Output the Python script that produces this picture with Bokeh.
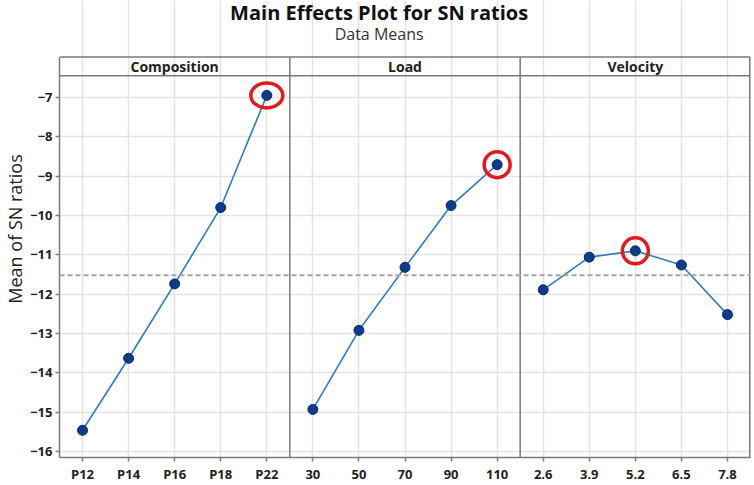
import numpy as np
from bokeh.plotting import figure
from bokeh.models import ColumnDataSource, FixedTicker, Span, Range1d
from bokeh.core.properties import value
from bokeh.embed import file_html
from bokeh.resources import INLINE

# ---- data ----
title_text = "Main Effects Plot for SN ratios"
subtitle_text = "Data Means"
y_label = "Mean of SN ratios"
factors = ["Composition", "Load", "Velocity"]
composition_levels = ["P12", "P14", "P16", "P18", "P22"]
composition_sn = [-15.46, -13.63, -11.74, -9.80, -6.95]
load_levels = ["30", "50", "70", "90", "110"]
load_sn = [-14.93, -12.92, -11.32, -9.75, -8.71]
velocity_levels = ["2.6", "3.9", "5.2", "6.5", "7.8"]
velocity_sn = [-11.89, -11.06, -10.90, -11.26, -12.52]
y_ticks = [-16, -15, -14, -13, -12, -11, -10, -9, -8, -7]

levels = [composition_levels, load_levels, velocity_levels]
series = [composition_sn, load_sn, velocity_sn]
grand_mean = float(np.mean(np.concatenate([np.array(s) for s in series])))

FONT = "Open Sans"
n = len(composition_levels)
npan = len(factors)

# ---- layout constants (pixels) ----
W, H = 754, 485
frame_h = 461.0          # frame height (canvas minus x-axis panel)
ppu = 39.7               # pixels per SN unit
y7_px = 97.7             # pixel row of the -7 gridline
box_top_px, strip_bot_px = 57.0, 76.0
title_px, subtitle_px = 12.0, 34.0
frame_left_px, frame_right_px = 56.0, 750.0
title_center_px = 377.0

def py(px):
    return -7 + (y7_px - px) / ppu

ppx = (frame_right_px - frame_left_px) / (npan * n)

def pxx(px):
    return 0.5 + (px - frame_left_px) / ppx

y_top = py(0)
y_bottom = py(frame_h)
box_top = py(box_top_px)
strip_bot = py(strip_bot_px)

p = figure(width=W, height=H, output_backend="svg", toolbar_location=None,
           x_range=Range1d(0.5, npan * n + 0.5), y_range=Range1d(y_bottom, y_top),
           min_border_left=int(frame_left_px), min_border_right=int(W - frame_right_px),
           min_border_top=0, min_border_bottom=int(H - frame_h))
p.title = None
p.background_fill_color = "white"
p.border_fill_color = "white"
p.outline_line_color = None

# ticks
xt = list(range(1, npan * n + 1))
overrides = {}
for k in range(npan):
    for i, lab in enumerate(levels[k]):
        overrides[k * n + i + 1] = lab

p.xaxis.ticker = FixedTicker(ticks=xt)
p.xaxis.major_label_overrides = overrides
p.yaxis.ticker = FixedTicker(ticks=y_ticks)
p.yaxis.bounds = (y_bottom, box_top)
for ax in (p.xaxis, p.yaxis):
    ax.axis_line_color = "#7a7a7a"
    ax.axis_line_width = 1.5
    ax.major_tick_line_color = "#7a7a7a"
    ax.major_tick_line_width = 1.5
    ax.major_tick_out = 4
    ax.major_tick_in = 0
    ax.minor_tick_line_color = None
    ax.major_label_text_font = FONT
    ax.major_label_text_font_size = "13px"
    ax.major_label_text_font_style = "bold"
    ax.major_label_text_color = "#222222"
    ax.major_label_standoff = 3
p.xaxis.major_label_standoff = 3
p.yaxis.axis_label = y_label
p.yaxis.axis_label_text_font = FONT
p.yaxis.axis_label_text_font_size = "18px"
p.yaxis.axis_label_text_font_style = "normal"
p.yaxis.axis_label_text_color = "#222222"
p.yaxis.axis_label_standoff = 0

# grids
p.xgrid.ticker = FixedTicker(ticks=xt)
p.xgrid.bounds = (y_bottom, strip_bot)
p.ygrid.ticker = FixedTicker(ticks=y_ticks)
for g in (p.xgrid, p.ygrid):
    g.grid_line_color = "#e3e3e3"
    g.grid_line_width = 1.5

# reference line
p.add_layout(Span(location=grand_mean, dimension="width", line_color="#a6a6a6",
                  line_width=2, line_dash="5 3"))

# box and strip lines
for loc in (box_top, strip_bot):
    p.add_layout(Span(location=loc, dimension="width", line_color="#7a7a7a", line_width=1.5))
sep_x = [k * n + 0.5 for k in range(1, npan + 1)]
p.segment(x0=sep_x, y0=[y_bottom] * npan, x1=sep_x, y1=[box_top] * npan,
          line_color="#7a7a7a", line_width=[1.5] * (npan - 1) + [3.0])

# titles
title_x = pxx(title_center_px)
p.text(x=[title_x], y=[py(title_px)], text=[title_text], text_align="center",
       text_baseline="middle", text_font=value(FONT), text_font_size="20px",
       text_font_style="bold", text_color="#111111")
p.text(x=[title_x], y=[py(subtitle_px)], text=[subtitle_text], text_align="center",
       text_baseline="middle", text_font=value(FONT), text_font_size="16px",
       text_font_style="normal", text_color="#333333")

# strip labels
strip_src = ColumnDataSource(dict(x=[k * n + (n + 1) / 2 for k in range(npan)],
                                  y=[(strip_bot + box_top) / 2] * npan, t=factors))
p.text("x", "y", text="t", source=strip_src, text_align="center", text_baseline="middle",
       text_font=value(FONT), text_font_size="14px", text_font_style="bold",
       text_color="#222222")

# series
hx, hy, hw, hh = [], [], [], []
for k in range(npan):
    xs = [k * n + i + 1 for i in range(n)]
    ys = series[k]
    p.line(xs, ys, line_color="#2f7bbf", line_width=1.6)
    p.scatter(xs, ys, size=10, fill_color="#0d3b8e", line_color="#0a2a66", line_width=1)
    j = int(np.argmax(ys))
    hx.append(xs[j])
    hy.append(ys[j])
    hw.append(32 if k == 0 else 26)
    hh.append(25 if k == 0 else 26)

p.ellipse(x=hx, y=hy, width=hw, height=hh, width_units="screen", height_units="screen",
          fill_color=None, line_color="#e3191c", line_width=3.5)

open("out.html", "w").write(file_html(p, INLINE))
